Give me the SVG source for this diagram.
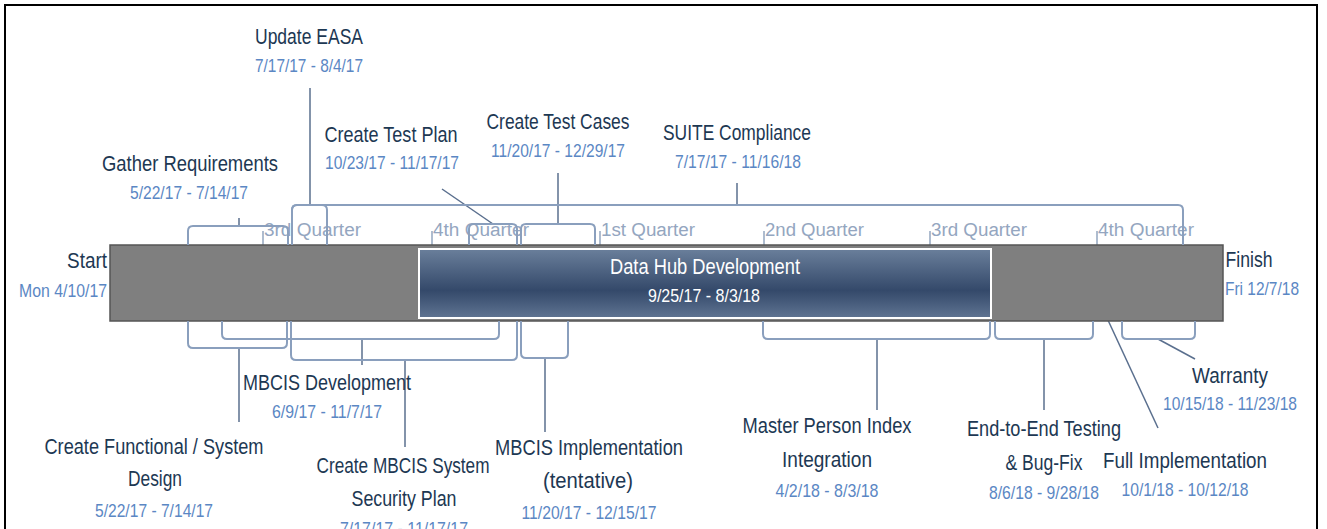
<svg xmlns="http://www.w3.org/2000/svg" width="1327" height="529" viewBox="0 0 1327 529">
  <style>
    text { font-family: "Liberation Sans", Arial, sans-serif; text-anchor: middle; }
    .t { font-size: 21.5px; fill: #1d3853; }
    .d { font-size: 18.5px; fill: #5b87c4; }
    .q { font-size: 18px; fill: #94a6c0; text-anchor: start; }
    .w { font-size: 21.5px; fill: #ffffff; }
    .wd { font-size: 18.5px; fill: #ffffff; }
    .br { fill: none; stroke: #8a9fbd; stroke-width: 2; }
    .tick { fill: none; stroke: #94a6c0; stroke-width: 1.5; }
    .ld { fill: none; stroke: #5a6f8e; stroke-width: 1.5; }
  </style>
  <defs>
    <linearGradient id="hubFill" x1="0" y1="0" x2="0" y2="1">
      <stop offset="0" stop-color="#6a7f9b"/>
      <stop offset="0.6" stop-color="#34496a"/>
      <stop offset="1" stop-color="#5f7492"/>
    </linearGradient>
  </defs>

  <rect x="0" y="0" width="1327" height="529" fill="#ffffff"/>
  <rect x="5" y="5" width="1312" height="540" fill="none" stroke="#000000" stroke-width="2"/>

  <!-- quarter scale -->
  <g id="quarters">
    <path class="tick" d="M263,231 V245 M432,231 V245 M600,231 V245 M764,231 V245 M930,231 V245 M1097,231 V245"/>
    <text class="q" x="264" y="236" textLength="97" lengthAdjust="spacingAndGlyphs">3rd Quarter</text>
    <text class="q" x="433" y="236" textLength="96" lengthAdjust="spacingAndGlyphs">4th Quarter</text>
    <text class="q" x="601" y="236" textLength="94" lengthAdjust="spacingAndGlyphs">1st Quarter</text>
    <text class="q" x="765" y="236" textLength="99" lengthAdjust="spacingAndGlyphs">2nd Quarter</text>
    <text class="q" x="931" y="236" textLength="96" lengthAdjust="spacingAndGlyphs">3rd Quarter</text>
    <text class="q" x="1098" y="236" textLength="96" lengthAdjust="spacingAndGlyphs">4th Quarter</text>
  </g>

  <!-- leader lines from brackets to labels -->
  <g id="connectors">
    <path class="ld" d="M239,218 V226"/>
    <path class="ld" d="M310,88 V205"/>
    <path class="ld" d="M737,183 V205"/>
    <path class="ld" d="M442,189 L493,224"/>
    <path class="ld" d="M558,173 V224"/>
    <path class="ld" d="M239,348 V422"/>
    <path class="ld" d="M362,339 V365"/>
    <path class="ld" d="M405,360 V447"/>
    <path class="ld" d="M545,358 V432"/>
    <path class="ld" d="M877,339 V410"/>
    <path class="ld" d="M1044,339 V410"/>
    <path class="ld" d="M1107,318 L1158,428"/>
    <path class="ld" d="M1158,339 L1195,359"/>
  </g>

  <!-- timeline bar -->
  <g id="timeline">
    <rect x="110" y="245" width="1113" height="76" fill="#7f7f7f" stroke="#555555" stroke-width="1.5"/>
  </g>

  <g id="start">
    <text class="t" x="87" y="268" textLength="40" lengthAdjust="spacingAndGlyphs">Start</text>
    <text class="d" x="63" y="297" textLength="88" lengthAdjust="spacingAndGlyphs">Mon 4/10/17</text>
  </g>
  <g id="finish">
    <text class="t" x="1249" y="267" textLength="47" lengthAdjust="spacingAndGlyphs">Finish</text>
    <text class="d" x="1262" y="295" textLength="74" lengthAdjust="spacingAndGlyphs">Fri 12/7/18</text>
  </g>

  <g id="data-hub">
    <rect x="419" y="249" width="572" height="69" fill="url(#hubFill)" stroke="#ffffff" stroke-width="2"/>
    <text class="w" x="705" y="274" textLength="190" lengthAdjust="spacingAndGlyphs">Data Hub Development</text>
    <text class="wd" x="704" y="302" textLength="112" lengthAdjust="spacingAndGlyphs">9/25/17 - 8/3/18</text>
  </g>

  <!-- tasks above the bar -->
  <g id="gather-requirements">
    <path class="br" d="M188,245 V231 Q188,226 193,226 H283 Q288,226 288,231 V245"/>
    <text class="t" x="190" y="171" textLength="176" lengthAdjust="spacingAndGlyphs">Gather Requirements</text>
    <text class="d" x="189" y="199" textLength="118" lengthAdjust="spacingAndGlyphs">5/22/17 - 7/14/17</text>
  </g>
  <g id="suite-compliance">
    <path class="br" d="M292,245 V210 Q292,205 297,205 H1178 Q1183,205 1183,210 V245"/>
    <text class="t" x="737" y="140" textLength="148" lengthAdjust="spacingAndGlyphs">SUITE Compliance</text>
    <text class="d" x="738" y="168" textLength="126" lengthAdjust="spacingAndGlyphs">7/17/17 - 11/16/18</text>
  </g>
  <g id="update-easa">
    <path class="br" d="M292,245 V210 Q292,205 297,205 H322 Q327,205 327,210 V245"/>
    <text class="t" x="309" y="44" textLength="108" lengthAdjust="spacingAndGlyphs">Update EASA</text>
    <text class="d" x="309" y="72" textLength="108" lengthAdjust="spacingAndGlyphs">7/17/17 - 8/4/17</text>
  </g>
  <g id="create-test-plan">
    <path class="br" d="M469,245 V229 Q469,224 474,224 H512 Q517,224 517,229 V245"/>
    <text class="t" x="391" y="142" textLength="133" lengthAdjust="spacingAndGlyphs">Create Test Plan</text>
    <text class="d" x="392" y="169" textLength="134" lengthAdjust="spacingAndGlyphs">10/23/17 - 11/17/17</text>
  </g>
  <g id="create-test-cases">
    <path class="br" d="M521,245 V229 Q521,224 526,224 H590 Q595,224 595,229 V245"/>
    <text class="t" x="558" y="129" textLength="143" lengthAdjust="spacingAndGlyphs">Create Test Cases</text>
    <text class="d" x="558" y="157" textLength="134" lengthAdjust="spacingAndGlyphs">11/20/17 - 12/29/17</text>
  </g>

  <!-- tasks below the bar -->
  <g id="functional-design">
    <path class="br" d="M188,321 V343 Q188,348 193,348 H282 Q287,348 287,343 V321"/>
    <text class="t" x="154" y="454" textLength="219" lengthAdjust="spacingAndGlyphs">Create Functional / System</text>
    <text class="t" x="155" y="486" textLength="54" lengthAdjust="spacingAndGlyphs">Design</text>
    <text class="d" x="154" y="517" textLength="118" lengthAdjust="spacingAndGlyphs">5/22/17 - 7/14/17</text>
  </g>
  <g id="mbcis-development">
    <path class="br" d="M222,321 V334 Q222,339 227,339 H494 Q499,339 499,334 V321"/>
    <text class="t" x="327" y="390" textLength="168" lengthAdjust="spacingAndGlyphs">MBCIS Development</text>
    <text class="d" x="327" y="418" textLength="110" lengthAdjust="spacingAndGlyphs">6/9/17 - 11/7/17</text>
  </g>
  <g id="security-plan">
    <path class="br" d="M291,321 V355 Q291,360 296,360 H512 Q517,360 517,355 V321"/>
    <text class="t" x="403" y="473" textLength="173" lengthAdjust="spacingAndGlyphs">Create MBCIS System</text>
    <text class="t" x="404" y="506" textLength="105" lengthAdjust="spacingAndGlyphs">Security Plan</text>
    <text class="d" x="404" y="535" textLength="128" lengthAdjust="spacingAndGlyphs">7/17/17 - 11/17/17</text>
  </g>
  <g id="mbcis-implementation">
    <path class="br" d="M521,321 V353 Q521,358 526,358 H563 Q568,358 568,353 V321"/>
    <text class="t" x="589" y="455" textLength="188" lengthAdjust="spacingAndGlyphs">MBCIS Implementation</text>
    <text class="t" x="588" y="488" textLength="90" lengthAdjust="spacingAndGlyphs">(tentative)</text>
    <text class="d" x="589" y="519" textLength="135" lengthAdjust="spacingAndGlyphs">11/20/17 - 12/15/17</text>
  </g>
  <g id="master-person-index">
    <path class="br" d="M763,321 V334 Q763,339 768,339 H985 Q990,339 990,334 V321"/>
    <text class="t" x="827" y="433" textLength="169" lengthAdjust="spacingAndGlyphs">Master Person Index</text>
    <text class="t" x="827" y="467" textLength="90" lengthAdjust="spacingAndGlyphs">Integration</text>
    <text class="d" x="827" y="497" textLength="103" lengthAdjust="spacingAndGlyphs">4/2/18 - 8/3/18</text>
  </g>
  <g id="end-to-end-testing">
    <path class="br" d="M995,321 V334 Q995,339 1000,339 H1088 Q1093,339 1093,334 V321"/>
    <text class="t" x="1044" y="436" textLength="154" lengthAdjust="spacingAndGlyphs">End-to-End Testing</text>
    <text class="t" x="1044" y="470" textLength="77" lengthAdjust="spacingAndGlyphs">&amp; Bug-Fix</text>
    <text class="d" x="1044" y="499" textLength="110" lengthAdjust="spacingAndGlyphs">8/6/18 - 9/28/18</text>
  </g>
  <g id="full-implementation">
    <text class="t" x="1185" y="468" textLength="164" lengthAdjust="spacingAndGlyphs">Full Implementation</text>
    <text class="d" x="1185" y="496" textLength="127" lengthAdjust="spacingAndGlyphs">10/1/18 - 10/12/18</text>
  </g>
  <g id="warranty">
    <path class="br" d="M1122,321 V334 Q1122,339 1127,339 H1190 Q1195,339 1195,334 V321"/>
    <text class="t" x="1230" y="383" textLength="76" lengthAdjust="spacingAndGlyphs">Warranty</text>
    <text class="d" x="1230" y="410" textLength="134" lengthAdjust="spacingAndGlyphs">10/15/18 - 11/23/18</text>
  </g>
</svg>
